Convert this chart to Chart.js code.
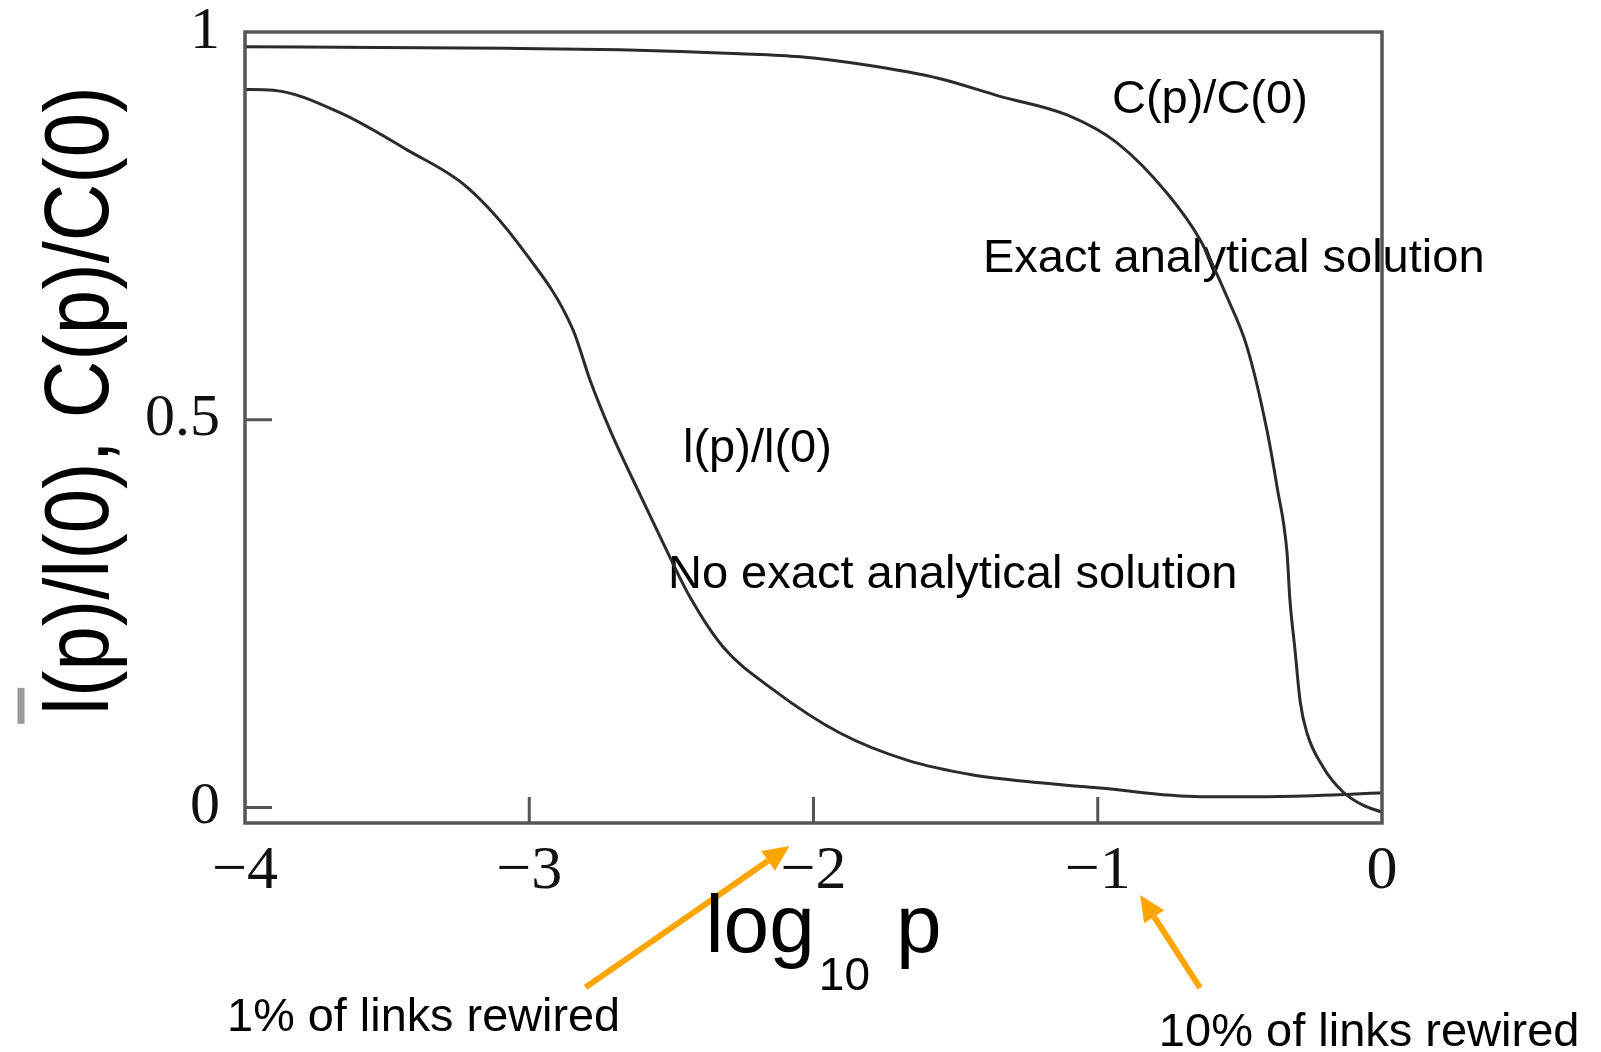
<!DOCTYPE html>
<html>
<head>
<meta charset="utf-8">
<script src="https://cdn.jsdelivr.net/npm/chart.js@4.4.1/dist/chart.umd.min.js"></script>
<style>
  html, body { margin: 0; padding: 0; background: #fff; overflow: hidden; }
  #wrap { width: 1601px; height: 1052px; position: relative; }
</style>
</head>
<body>
<div id="wrap"><canvas id="chart"></canvas></div>
<script>
// log10 p on x, normalised value on y
const cX = [-4, -3.525, -3.078, -2.681, -2.259, -2.047, -1.808, -1.558, -1.344, -1.108, -0.932, -0.756, -0.640, -0.545, -0.475, -0.405, -0.369, -0.334, -0.324, -0.306, -0.288, -0.264, -0.207, -0.137, -0.067, 0];
const cY = [0.981, 0.980, 0.979, 0.977, 0.972, 0.968, 0.957, 0.940, 0.917, 0.893, 0.857, 0.792, 0.732, 0.658, 0.594, 0.487, 0.413, 0.328, 0.268, 0.203, 0.137, 0.096, 0.052, 0.020, 0.003, -0.006];

const lX = [-4, -3.901, -3.666, -3.430, -3.219, -3.022, -2.846, -2.786, -2.716, -2.646, -2.529, -2.434, -2.318, -2.142, -1.907, -1.671, -1.439, -1.203, -0.992, -0.640, -0.405, -0.172, 0];
const lY = [0.926, 0.925, 0.896, 0.848, 0.800, 0.719, 0.616, 0.551, 0.487, 0.431, 0.341, 0.271, 0.207, 0.152, 0.096, 0.061, 0.042, 0.032, 0.025, 0.014, 0.014, 0.016, 0.019];

const xTicks = [-4, -3, -2, -1, 0];
const yTicks = [0, 0.5, 1];
const yTickLabels = ['0', '0.5', '1'];

const yTitle = 'l(p)/l(0), C(p)/C(0)';

// text notes, anchored in data units (left, baseline)
const notes = [
  { text: 'C(p)/C(0)', x: -0.950, y: 0.896, size: 47 },
  { text: 'Exact analytical solution', x: -1.404, y: 0.691, size: 47 },
  { text: 'l(p)/l(0)', x: -2.459, y: 0.446, size: 47 },
  { text: 'No exact analytical solution', x: -2.512, y: 0.283, size: 47 },
  { text: '1% of links rewired', x: -4.063, y: -0.288, size: 47, maxW: 393 },
  { text: '10% of links rewired', x: -0.785, y: -0.3075, size: 47, maxW: 421 }
];

// orange arrows: tail -> tip, data units
const arrows = [
  { from: [-2.802, -0.232], to: [-2.0845, -0.0496] },
  { from: [-0.640, -0.2327], to: [-0.851, -0.1128] }
];

const SANS = '"Liberation Sans", Arial, sans-serif';
const SERIF = '"Liberation Serif", "Times New Roman", serif';

const figure = {
  id: 'figure',
  beforeDatasetsDraw(chart) {
    const { ctx, scales: { x, y } } = chart;
    ctx.save();
    ctx.fillStyle = '#000';
    ctx.textAlign = 'left';
    ctx.textBaseline = 'alphabetic';
    notes.forEach(n => {
      ctx.font = n.size + 'px ' + SANS;
      const px = x.getPixelForValue(n.x), py = y.getPixelForValue(n.y);
      if (n.maxW) ctx.fillText(n.text, px, py, n.maxW);
      else ctx.fillText(n.text, px, py);
    });
    ctx.restore();
  },
  afterDatasetsDraw(chart) {
    const { ctx, chartArea: a, scales: { x, y } } = chart;
    ctx.save();
    // frame
    ctx.strokeStyle = '#555';
    ctx.lineWidth = 3.5;
    ctx.strokeRect(a.left, a.top, a.right - a.left, a.bottom - a.top);
    // inward tick marks
    ctx.lineWidth = 3;
    ctx.beginPath();
    x.ticks.forEach(t => {
      const px = x.getPixelForValue(t.value);
      if (px > a.left + 3 && px < a.right - 3) { ctx.moveTo(px, a.bottom); ctx.lineTo(px, a.bottom - 26); }
    });
    y.ticks.forEach(t => {
      const py = y.getPixelForValue(t.value);
      if (py > a.top + 3 && py < a.bottom - 3) { ctx.moveTo(a.left, py); ctx.lineTo(a.left + 27, py); }
    });
    ctx.stroke();

    // arrows
    ctx.strokeStyle = '#FFA500';
    ctx.fillStyle = '#FFA500';
    ctx.lineWidth = 6;
    arrows.forEach(ar => {
      const x0 = x.getPixelForValue(ar.from[0]), y0 = y.getPixelForValue(ar.from[1]);
      const x1 = x.getPixelForValue(ar.to[0]), y1 = y.getPixelForValue(ar.to[1]);
      const ang = Math.atan2(y1 - y0, x1 - x0);
      const hl = 26, hw = 12;
      const bx = x1 - hl * Math.cos(ang), by = y1 - hl * Math.sin(ang);
      ctx.beginPath();
      ctx.moveTo(x0, y0);
      ctx.lineTo(bx, by);
      ctx.stroke();
      ctx.beginPath();
      ctx.moveTo(x1, y1);
      ctx.lineTo(bx + hw * Math.sin(ang), by - hw * Math.cos(ang));
      ctx.lineTo(bx - hw * Math.sin(ang), by + hw * Math.cos(ang));
      ctx.closePath();
      ctx.fill();
    });
    ctx.restore();
  },
  afterDraw(chart) {
    const { ctx, chartArea: a } = chart;
    ctx.save();
    ctx.fillStyle = '#000';
    ctx.textBaseline = 'alphabetic';

    // x title: log_10 p
    const base = a.bottom + 129;
    ctx.font = '82px ' + SANS;
    ctx.textAlign = 'left';
    const wLog = ctx.measureText('log').width;
    ctx.font = '46px ' + SANS;
    const wSub = ctx.measureText('10').width;
    ctx.font = '82px ' + SANS;
    const wP = ctx.measureText('p').width;
    const total = wLog + 4 + wSub + 26 + wP;
    let xs = (a.left + a.right) / 2 + 10 - total / 2;
    ctx.fillText('log', xs, base);
    ctx.font = '46px ' + SANS;
    ctx.fillText('10', xs + wLog + 4, base + 38);
    ctx.font = '82px ' + SANS;
    ctx.fillText('p', xs + wLog + 4 + wSub + 26, base);

    // y title, rotated and slightly condensed
    const squeeze = 0.885;
    ctx.font = '90px ' + SANS;
    const w = ctx.measureText(yTitle).width * squeeze;
    const wl = ctx.measureText('l').width * squeeze;
    ctx.translate(108, (a.top + a.bottom) / 2 - 27);
    ctx.rotate(-Math.PI / 2);
    // bar over the first l
    ctx.strokeStyle = '#999';
    ctx.lineWidth = 7;
    ctx.beginPath();
    ctx.moveTo(-w / 2 + wl / 2 - 18, -87);
    ctx.lineTo(-w / 2 + wl / 2 + 18, -87);
    ctx.stroke();
    ctx.scale(squeeze, 1);
    ctx.textAlign = 'center';
    ctx.fillText(yTitle, 0, 0);
    ctx.restore();
  }
};

const toPts = (xs, ys) => xs.map((v, i) => ({ x: v, y: ys[i] }));

new Chart(document.getElementById('chart'), {
  type: 'line',
  data: {
    datasets: [
      { label: 'C(p)/C(0)', data: toPts(cX, cY), borderColor: '#2b2b2b', borderWidth: 3, pointRadius: 0, cubicInterpolationMode: 'monotone', fill: false },
      { label: 'l(p)/l(0)', data: toPts(lX, lY), borderColor: '#2b2b2b', borderWidth: 3, pointRadius: 0, cubicInterpolationMode: 'monotone', fill: false }
    ]
  },
  options: {
    responsive: true, maintainAspectRatio: false, animation: false,
    devicePixelRatio: 1,
    layout: { padding: { top: 32, right: 219, left: 0, bottom: 0 } },
    plugins: { legend: { display: false }, tooltip: { enabled: false } },
    scales: {
      x: {
        type: 'linear', min: -4, max: 0,
        afterBuildTicks: s => { s.ticks = xTicks.map(v => ({ value: v })); },
        afterFit: s => { s.height = 229; s.paddingLeft = 0; s.paddingRight = 0; },
        grid: { display: false, drawTicks: false },
        border: { display: false },
        ticks: {
          padding: 18, color: '#111', maxRotation: 0,
          font: { family: SERIF, size: 62, lineHeight: 1 },
          callback: v => String(v).replace('-', '\u2212')
        }
      },
      y: {
        min: -0.02, max: 1,
        afterBuildTicks: s => { s.ticks = yTicks.map(v => ({ value: v })); },
        afterFit: s => { s.width = 245; s.paddingTop = 0; s.paddingBottom = 0; },
        grid: { display: false, drawTicks: false },
        border: { display: false },
        ticks: {
          padding: 25, color: '#111',
          font: { family: SERIF, size: 60, lineHeight: 1 },
          callback: v => yTickLabels[yTicks.indexOf(v)]
        }
      }
    }
  },
  plugins: [figure]
});
</script>
</body>
</html>
